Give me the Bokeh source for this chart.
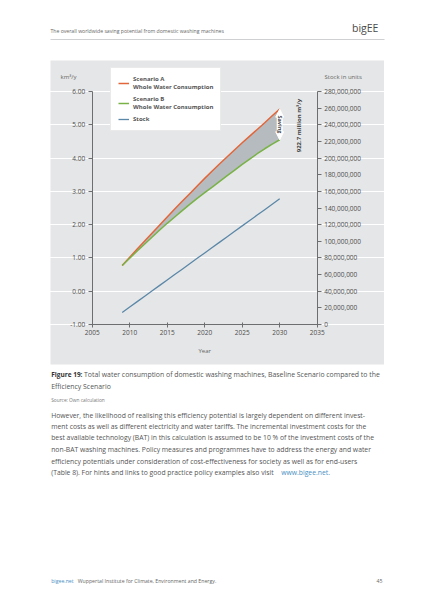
import math
from bokeh.plotting import figure
from bokeh.models import (Range1d, LinearAxis, FixedTicker, NumeralTickFormatter, Grid,
                          BoxAnnotation, Label, Legend, LegendItem, Arrow, NormalHead)
from bokeh.embed import file_html
from bokeh.resources import INLINE

# ---------------- data ----------------
years = [2009, 2010, 2011, 2012, 2013, 2014, 2015, 2016, 2017, 2018, 2019,
         2020, 2021, 2022, 2023, 2024, 2025, 2026, 2027, 2028, 2029, 2030]
scenario_a = [0.77, 1.02, 1.27, 1.51, 1.75, 1.99, 2.23, 2.47, 2.70, 2.93, 3.16,
              3.39, 3.61, 3.83, 4.04, 4.25, 4.46, 4.66, 4.86, 5.06, 5.27, 5.47]
scenario_b = [0.77, 0.99, 1.21, 1.42, 1.63, 1.84, 2.04, 2.23, 2.42, 2.61, 2.79,
              2.96, 3.13, 3.30, 3.47, 3.64, 3.81, 3.97, 4.13, 4.28, 4.42, 4.55]
stock_units = [14.5e6, 21.0e6, 27.5e6, 34.0e6, 40.5e6, 47.0e6, 53.5e6, 60.0e6, 66.5e6,
               73.0e6, 79.5e6, 86.0e6, 92.5e6, 99.0e6, 105.5e6, 112.0e6, 118.5e6,
               125.0e6, 131.5e6, 138.0e6, 144.5e6, 151.0e6]

x_ticks = [2005, 2010, 2015, 2020, 2025, 2030, 2035]
y_ticks = [-1, 0, 1, 2, 3, 4, 5, 6]
stock_ticks = [0, 20e6, 40e6, 60e6, 80e6, 100e6, 120e6, 140e6, 160e6, 180e6,
               200e6, 220e6, 240e6, 260e6, 280e6]

legend_labels = ["Scenario A\nWhole Water Consumption",
                 "Scenario B\nWhole Water Consumption",
                 "Stock"]
saving_label = "Saving"
saving_value_label = "922.7 million m³/y"

# ---------------- page geometry ----------------
W, H = 424, 600
X0, X1 = 1992.773, 2049.307
Y0, Y1 = -9.2918, 8.7339
UNITS_PER_KM3 = 40e6  # right axis: 280,000,000 <-> 6.00, 0 <-> -1.00

def dx(rx):
    return X0 + rx / W * (X1 - X0)

def dy(ry):
    return Y1 - ry / H * (Y1 - Y0)

FONT = "Open Sans"
TXT = "#4d4d4d"
ORANGE = "#e2663a"
GREEN = "#79b247"
BLUE = "#5b87a8"

p = figure(width=W, height=H, x_range=Range1d(X0, X1), y_range=Range1d(Y0, Y1),
           output_backend="svg", toolbar_location=None,
           x_axis_location=None, y_axis_location=None, min_border=0,
           outline_line_color=None, background_fill_color="white",
           border_fill_color="white")
p.extra_y_ranges = {"stock": Range1d((Y0 + 1) * UNITS_PER_KM3, (Y1 + 1) * UNITS_PER_KM3)}
for g in list(p.grid):
    g.visible = False

# gray chart panel and header rule
p.add_layout(BoxAnnotation(left=dx(50), right=dx(383.5), top=dy(60), bottom=dy(364),
                           fill_color="#e5e6e7", fill_alpha=1, line_color=None, level="image"))
p.add_layout(BoxAnnotation(left=dx(50), right=dx(384), top=dy(38.6), bottom=dy(39.4),
                           fill_color="#cfd0d1", fill_alpha=1, line_color=None, level="image"))

# grid
p.add_layout(Grid(dimension=1, ticker=FixedTicker(ticks=y_ticks), bounds=(x_ticks[0], x_ticks[-1]),
                  grid_line_color="white", grid_line_width=1.2))

def style_axis(ax):
    ax.axis_line_color = "#6d6e70"
    ax.axis_line_width = 1
    ax.major_tick_line_color = "#6d6e70"
    ax.minor_tick_line_color = None
    ax.major_label_text_font = FONT
    ax.major_label_text_font_size = "6.5px"
    ax.major_label_text_color = TXT

left = LinearAxis(fixed_location=x_ticks[0], bounds=(y_ticks[0], y_ticks[-1]),
                  ticker=FixedTicker(ticks=y_ticks), formatter=NumeralTickFormatter(format="0.00"))
style_axis(left)
left.major_tick_out = 4
left.major_tick_in = 0
left.major_label_standoff = 3
p.add_layout(left, "left")

bottom = LinearAxis(fixed_location=y_ticks[0], bounds=(x_ticks[0], x_ticks[-1]),
                    ticker=FixedTicker(ticks=x_ticks))
style_axis(bottom)
bottom.major_tick_out = 3
bottom.major_tick_in = 2
bottom.major_label_standoff = 2
p.add_layout(bottom, "below")

right = LinearAxis(y_range_name="stock", fixed_location=x_ticks[-1],
                   bounds=(stock_ticks[0], stock_ticks[-1]),
                   ticker=FixedTicker(ticks=stock_ticks), formatter=NumeralTickFormatter(format="0,0"))
style_axis(right)
right.major_tick_out = 4
right.major_tick_in = 0
right.major_label_standoff = 3
p.add_layout(right, "right")

# data
p.varea(x=years, y1=scenario_b, y2=scenario_a, fill_color="#b5bbbf", fill_alpha=1)
ra = p.line(years, scenario_a, line_color=ORANGE, line_width=1.5)
rb = p.line(years, scenario_b, line_color=GREEN, line_width=1.5)
rs = p.line(years, stock_units, y_range_name="stock", line_color=BLUE, line_width=1.3)

legend = Legend(items=[LegendItem(label=legend_labels[0], renderers=[ra]),
                       LegendItem(label=legend_labels[1], renderers=[rb]),
                       LegendItem(label=legend_labels[2], renderers=[rs])],
                location=(110, 469), orientation="vertical",
                label_text_font=FONT, label_text_font_size="6px", label_text_font_style="bold",
                label_text_color="#555555", glyph_width=11, glyph_height=8, label_standoff=4,
                padding=7, spacing=4, margin=0, label_height=8,
                border_line_color="#d5d6d7", background_fill_color="white", background_fill_alpha=1)
p.add_layout(legend, "center")

# saving arrow
p.add_layout(Arrow(x_start=years[-1], y_start=scenario_a[-1], x_end=years[-1], y_end=scenario_b[-1],
                   start=NormalHead(size=8, fill_color="white", line_color="white"),
                   end=NormalHead(size=8, fill_color="white", line_color="white"),
                   line_color="white", line_width=6))
p.add_layout(Label(x=years[-1], y=(scenario_a[-1] + scenario_b[-1]) / 2, text=saving_label,
                   angle=-math.pi / 2, text_align="center", text_baseline="middle",
                   text_font=FONT, text_font_size="5.5px", text_font_style="bold", text_color="#444444"))
p.add_layout(Label(x=dx(298), y=dy(125), text=saving_value_label, angle=math.pi / 2,
                   text_align="center", text_baseline="middle",
                   text_font=FONT, text_font_size="6px", text_font_style="bold", text_color="#444444"))

def txt(rx, ry, s, size="6.3px", color="#555555", style="normal", align="left"):
    p.add_layout(Label(x=dx(rx), y=dy(ry), text=s, text_align=align, text_baseline="middle",
                       text_font=FONT, text_font_size=size, text_font_style=style, text_color=color))

# axis unit labels
txt(60, 76, "km³/y", size="6px", color="#666666")
txt(324, 76, "Stock in units", size="6px", color="#666666")
txt(204.2, 350, "Year", size="6px", color="#666666", align="center")

# page header
txt(50, 30.5, "The overall worldwide saving potential from domestic washing machines", size="5.15px", color="#666666")
txt(351.5, 27, "bigEE", size="10.5px", color="#4a4a4a")

# caption
txt(50.7, 374.3, "Figure 19:", size="6.5px", color="#333333", style="bold")
txt(83.5, 374.3, "Total water consumption of domestic washing machines, Baseline Scenario compared to the", size="6.9px", color="#555555")
txt(50.7, 385.7, "Efficiency Scenario", size="6.9px", color="#555555")
txt(50.7, 399, "Source: Own calculation", size="4.8px", color="#777777")

para = ["However, the likelihood of realising this efficiency potential is largely dependent on different invest-",
        "ment costs as well as different electricity and water tariffs. The incremental investment costs for the",
        "best available technology (BAT) in this calculation is assumed to be 10 % of the investment costs of the",
        "non-BAT washing machines. Policy measures and programmes have to address the energy and water",
        "efficiency potentials under consideration of cost-effectiveness for society as well as for end-users",
        "(Table 8). For hints and links to good practice policy examples also visit"]
para_y = [414.7, 426.0, 437.3, 449.3, 460.7, 472.0]
for s, yy in zip(para, para_y):
    txt(50.7, yy, s, size="6.8px", color="#555555")
txt(280.7, 472.0, "www.bigee.net.", size="6.8px", color="#4a90c2")

# footer
txt(50.7, 580.7, "bigee.net", size="5.2px", color="#4a90c2")
txt(77.3, 580.7, "Wuppertal Institute for Climate, Environment and Energy.", size="5.2px", color="#666666")
txt(382, 580.7, "45", size="5.2px", color="#666666", align="right")

open("out.html", "w").write(file_html(p, INLINE))
